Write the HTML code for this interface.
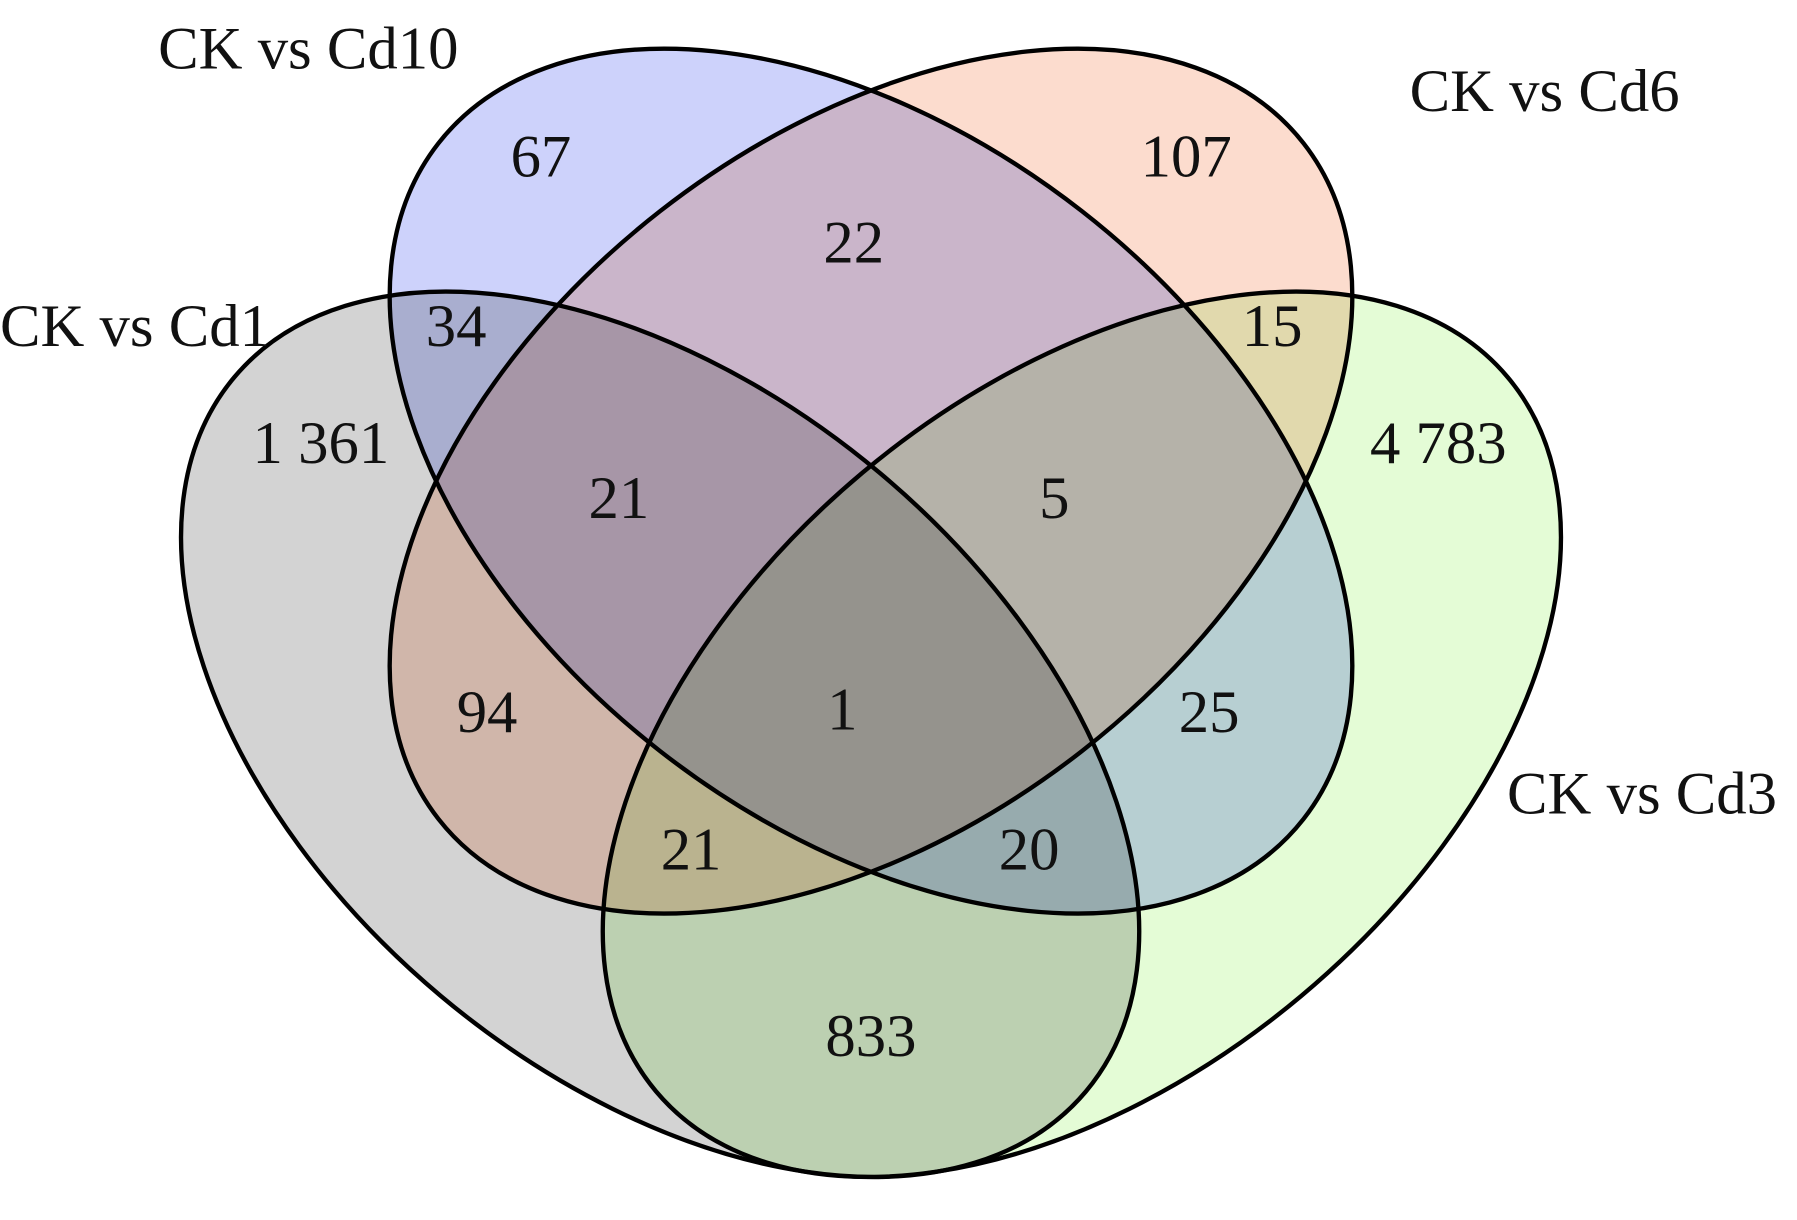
<!DOCTYPE html>
<html>
<head>
<meta charset="utf-8">
<style>
html,body{margin:0;padding:0;background:#fff;width:1797px;height:1220px;overflow:hidden;}
svg{display:block;}
text{font-family:"Liberation Serif","DejaVu Serif",serif;font-size:53px;fill:#111;}
.f{mix-blend-mode:multiply;}
</style>
</head>
<body>
<svg width="1797" height="1220" viewBox="0 0 1568 1065" preserveAspectRatio="none" xmlns="http://www.w3.org/2000/svg">
<rect width="1568" height="1065" fill="#fff"/>
<g>
<ellipse class="f" cx="576" cy="641" rx="485" ry="298" transform="rotate(40 576 641)" fill="#d3d3d3"/>
<ellipse class="f" cx="944" cy="641" rx="485" ry="298" transform="rotate(-40 944 641)" fill="#e4fcd6"/>
<ellipse class="f" cx="760" cy="420" rx="479" ry="299" transform="rotate(38 760 420)" fill="#cdd2fb"/>
<ellipse class="f" cx="760" cy="420" rx="479" ry="299" transform="rotate(-38 760 420)" fill="#fcdcce"/>
</g>
<g fill="none" stroke="#000" stroke-width="3.8">
<ellipse cx="576" cy="641" rx="485" ry="298" transform="rotate(40 576 641)"/>
<ellipse cx="944" cy="641" rx="485" ry="298" transform="rotate(-40 944 641)"/>
<ellipse cx="760" cy="420" rx="479" ry="299" transform="rotate(38 760 420)"/>
<ellipse cx="760" cy="420" rx="479" ry="299" transform="rotate(-38 760 420)"/>
</g>
<g text-anchor="middle">
<text x="472" y="154">67</text>
<text x="1035" y="154">107</text>
<text x="745" y="229">22</text>
<text x="398" y="302">34</text>
<text x="1110" y="302">15</text>
<text x="280" y="404">1 361</text>
<text x="1255" y="404">4 783</text>
<text x="540" y="452">21</text>
<text x="920" y="452">5</text>
<text x="425" y="639">94</text>
<text x="735" y="637">1</text>
<text x="1055" y="639">25</text>
<text x="603" y="759">21</text>
<text x="898" y="759">20</text>
<text x="760" y="922">833</text>
</g>
<text x="138" y="60">CK vs Cd10</text>
<text x="1230" y="97">CK vs Cd6</text>
<text x="0" y="302">CK vs Cd1</text>
<text x="1315" y="710">CK vs Cd3</text>
</svg>
</body>
</html>
